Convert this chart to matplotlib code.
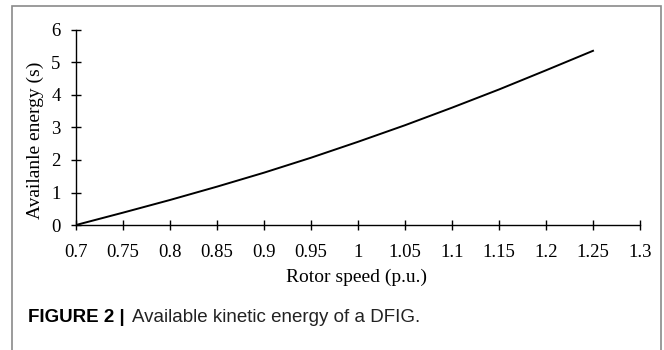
import matplotlib.pyplot as plt
from matplotlib.patches import Rectangle

# data
rotor_speed = [0.70, 0.75, 0.80, 0.85, 0.90, 0.95, 1.00, 1.05, 1.10, 1.15, 1.20, 1.25]
energy = [0.0, 0.38, 0.77, 1.18, 1.61, 2.07, 2.56, 3.07, 3.61, 4.17, 4.76, 5.36]
x_ticks = [0.7, 0.75, 0.8, 0.85, 0.9, 0.95, 1.0, 1.05, 1.1, 1.15, 1.2, 1.25, 1.3]
x_tick_labels = ['0.7', '0.75', '0.8', '0.85', '0.9', '0.95', '1', '1.05', '1.1', '1.15', '1.2', '1.25', '1.3']
y_ticks = [0, 1, 2, 3, 4, 5, 6]

W, H = 664, 350
fig = plt.figure(figsize=(W / 100, H / 100), dpi=100)

# outer frame of the figure panel
fig.patches.append(Rectangle((12 / W, -0.05), (661 - 12) / W, (H - 6) / H + 0.05,
                             transform=fig.transFigure, fill=False,
                             edgecolor='#8a8a8a', linewidth=1.2))

# axes: x 0.7 -> px 76, 1.3 -> px 640 ; y 0 -> px 225, 6 -> px 30
ax = fig.add_axes([76 / W, (H - 225) / H, (640 - 76) / W, (225 - 30) / H])
ax.plot(rotor_speed, energy, color='black', linewidth=1.4)

ax.set_xlim(0.7, 1.3)
ax.set_ylim(0, 6)
for s in ['top', 'right']:
    ax.spines[s].set_visible(False)
for s in ['left', 'bottom']:
    ax.spines[s].set_linewidth(1.0)

serif = 'Liberation Serif'
ax.set_xticks(x_ticks)
ax.set_xticklabels(x_tick_labels, family=serif, fontsize=13.5)
ax.set_yticks(y_ticks)
ax.set_yticklabels([str(v) for v in y_ticks], family=serif, fontsize=13.5)
ax.tick_params(axis='x', direction='inout', length=7, width=1.0, pad=10.5, colors='black')
ax.tick_params(axis='y', direction='inout', length=7, width=1.0, pad=7.5, colors='black')

ax.set_xlabel('Rotor speed (p.u.)', family=serif, fontsize=14)
ax.set_ylabel('Availanle energy (s)', family=serif, fontsize=14)
ax.xaxis.set_label_coords((357 - 76) / (640 - 76), (225 - 269) / (225 - 30))
ax.yaxis.set_label_coords((44 - 76) / (640 - 76), (225 - 140) / (225 - 30))

# caption
fig.text(28 / W, (H - 318) / H, 'FIGURE 2 |', family='Liberation Sans',
         fontweight='bold', fontsize=13.5, va='center', ha='left')
fig.text(132 / W, (H - 318) / H, 'Available kinetic energy of a DFIG.',
         family='Liberation Sans', fontsize=13.5, va='center', ha='left', color='#222222')

fig.savefig('out.png', dpi=100)
